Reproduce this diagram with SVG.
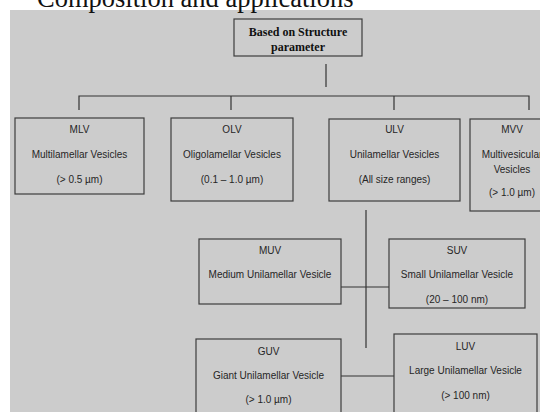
<svg xmlns="http://www.w3.org/2000/svg" width="540" height="412" viewBox="0 0 540 412">
  <style>
    .node rect { fill: none; stroke: #3c3c3c; stroke-width: 1.2; }
    .lbl { font-family: "Liberation Sans", Arial, sans-serif; font-size: 10px; fill: #262626; text-anchor: middle; }
    .head { font-family: "Liberation Serif", "Times New Roman", serif; font-size: 12px; font-weight: bold; fill: #111; text-anchor: middle; }
    .wire { fill: none; stroke: #333; stroke-width: 1.2; }
  </style>
  <rect x="0" y="0" width="540" height="412" fill="#ffffff"/>
  <rect x="10" y="10" width="530" height="402" fill="#cccccc"/>
  <text x="37" y="6.5" font-family="'Liberation Serif', 'Times New Roman', serif" font-size="26.5" fill="#111">Composition and applications</text>

  <g id="connectors">
    <path class="wire" d="M326 64V87"/>
    <path class="wire" d="M79 110V96H529V110M231 96V110M394 96V110"/>
    <path class="wire" d="M366 210V348"/>
    <path class="wire" d="M341 287H389"/>
    <path class="wire" d="M341 376H394"/>
  </g>

  <g id="root" class="node">
    <rect x="234" y="19" width="128" height="37"/>
    <text class="head" x="298" y="35.5">Based on Structure</text>
    <text class="head" x="298" y="51">parameter</text>
  </g>

  <g id="mlv" class="node">
    <rect x="15" y="118" width="129" height="76"/>
    <text class="lbl" x="79.5" y="132.5">MLV</text>
    <text class="lbl" x="79.5" y="157.5">Multilamellar Vesicles</text>
    <text class="lbl" x="79.5" y="183">(&gt; 0.5 µm)</text>
  </g>

  <g id="olv" class="node">
    <rect x="171" y="118" width="122" height="83"/>
    <text class="lbl" x="232" y="132.5">OLV</text>
    <text class="lbl" x="232" y="157.5">Oligolamellar Vesicles</text>
    <text class="lbl" x="232" y="183">(0.1 – 1.0 µm)</text>
  </g>

  <g id="ulv" class="node">
    <rect x="329" y="119" width="131" height="82"/>
    <text class="lbl" x="394.5" y="132.5">ULV</text>
    <text class="lbl" x="394.5" y="157.5">Unilamellar Vesicles</text>
    <text class="lbl" x="394.5" y="183">(All size ranges)</text>
  </g>

  <g id="mvv" class="node">
    <rect x="470" y="119" width="84" height="92"/>
    <text class="lbl" x="512" y="132.5">MVV</text>
    <text class="lbl" x="512" y="157.5">Multivesicular</text>
    <text class="lbl" x="512" y="172.5">Vesicles</text>
    <text class="lbl" x="512" y="195.5">(&gt; 1.0 µm)</text>
  </g>

  <g id="muv" class="node">
    <rect x="199" y="239" width="142" height="65"/>
    <text class="lbl" x="270" y="253.5">MUV</text>
    <text class="lbl" x="270" y="277.5">Medium Unilamellar Vesicle</text>
  </g>

  <g id="suv" class="node">
    <rect x="389" y="239" width="136" height="69"/>
    <text class="lbl" x="457" y="253.5">SUV</text>
    <text class="lbl" x="457" y="277.5">Small Unilamellar Vesicle</text>
    <text class="lbl" x="457" y="302.5">(20 – 100 nm)</text>
  </g>

  <g id="guv" class="node">
    <rect x="196" y="339" width="145" height="80"/>
    <text class="lbl" x="268.5" y="354.5">GUV</text>
    <text class="lbl" x="268.5" y="378.5">Giant Unilamellar Vesicle</text>
    <text class="lbl" x="268.5" y="403">(&gt; 1.0 µm)</text>
  </g>

  <g id="luv" class="node">
    <rect x="394" y="334" width="143" height="85"/>
    <text class="lbl" x="465.5" y="350">LUV</text>
    <text class="lbl" x="465.5" y="374">Large Unilamellar Vesicle</text>
    <text class="lbl" x="465.5" y="398.5">(&gt; 100 nm)</text>
  </g>
</svg>
